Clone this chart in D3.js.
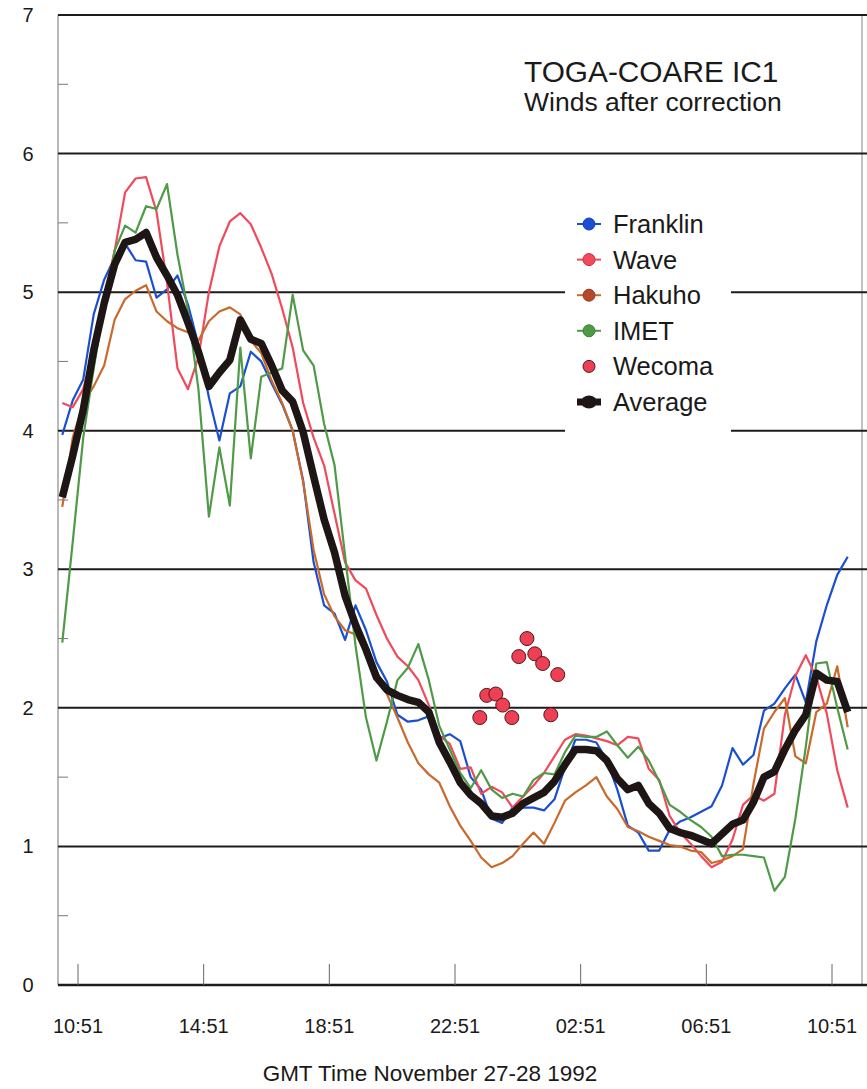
<!DOCTYPE html>
<html>
<head>
<meta charset="utf-8">
<script src="https://cdn.jsdelivr.net/npm/d3@7"></script>
<style>
  html, body { margin: 0; padding: 0; background: #fff; }
  svg { display: block; }
  text { font-family: "Liberation Sans", Arial, Helvetica, sans-serif; fill: #1a1a1a; }
</style>
</head>
<body>
<script>
// Time is measured in hours after 10:51 GMT, 27 November 1992.
// Ship records are 20-minute samples starting at 10:21 GMT.
const sampleStart = -0.5;
const sampleStep = 1 / 3;

// Corrected wind speed (m/s) per platform
const franklin = [3.97,4.22,4.37,4.84,5.09,5.25,5.35,5.23,5.22,4.96,
  5.02,5.12,4.91,4.62,4.24,3.93,4.27,4.32,4.57,4.50,
  4.34,4.19,4.00,3.64,3.05,2.74,2.68,2.49,2.74,2.56,
  2.33,2.19,1.95,1.90,1.91,1.94,1.78,1.81,1.76,1.50,
  1.41,1.20,1.17,1.28,1.28,1.28,1.26,1.34,1.57,1.77,
  1.77,1.75,1.62,1.41,1.15,1.10,0.97,0.97,1.12,1.18,
  1.21,1.25,1.29,1.44,1.71,1.59,1.66,1.98,2.03,2.14,
  2.24,2.04,2.48,2.74,2.96,3.09];

const wave = [4.20,4.17,4.30,4.58,4.95,5.30,5.72,5.82,5.83,5.58,
  5.07,4.45,4.30,4.53,5.00,5.33,5.51,5.57,5.49,5.32,
  5.13,4.88,4.60,4.20,3.95,3.75,3.40,3.05,2.92,2.86,
  2.67,2.50,2.37,2.30,2.20,2.02,1.80,1.74,1.56,1.57,
  1.38,1.43,1.39,1.28,1.36,1.44,1.53,1.65,1.77,1.81,
  1.80,1.78,1.76,1.73,1.79,1.78,1.56,1.48,1.22,1.10,
  1.02,0.93,0.85,0.89,1.05,1.30,1.37,1.33,1.38,1.95,
  2.23,2.38,2.22,1.96,1.55,1.28];

const hakuho = [3.45,3.95,4.20,4.32,4.47,4.80,4.95,5.01,5.05,4.86,
  4.79,4.74,4.71,4.65,4.79,4.86,4.89,4.84,4.65,4.56,
  4.36,4.20,4.00,3.63,3.14,2.82,2.66,2.56,2.53,2.40,
  2.27,2.10,1.93,1.75,1.60,1.52,1.46,1.29,1.15,1.04,
  0.92,0.85,0.88,0.93,1.02,1.10,1.02,1.17,1.33,1.39,
  1.44,1.50,1.36,1.27,1.14,1.11,1.07,1.04,1.01,1.00,
  0.97,0.96,0.88,0.90,0.93,0.98,1.45,1.85,1.97,2.07,
  1.65,1.60,1.97,2.03,2.30,1.86];

const imet = [2.47,3.20,3.95,4.45,4.90,5.30,5.48,5.43,5.62,5.60,
  5.78,5.27,4.87,4.30,3.38,3.88,3.46,4.60,3.80,4.39,
  4.42,4.45,4.98,4.58,4.47,4.05,3.75,3.10,2.45,1.93,
  1.62,1.90,2.20,2.29,2.46,2.20,1.87,1.70,1.53,1.42,
  1.55,1.41,1.35,1.38,1.36,1.48,1.53,1.52,1.68,1.80,
  1.79,1.79,1.83,1.73,1.64,1.72,1.62,1.47,1.30,1.25,
  1.19,1.14,1.07,0.93,0.94,0.94,0.93,0.92,0.68,0.78,
  1.20,1.72,2.32,2.33,2.00,1.70];

const average = [3.52,3.82,4.15,4.58,4.92,5.20,5.36,5.38,5.43,5.25,
  5.12,4.98,4.78,4.57,4.32,4.42,4.51,4.80,4.66,4.63,
  4.47,4.29,4.21,3.99,3.67,3.36,3.12,2.81,2.60,2.42,
  2.22,2.13,2.09,2.06,2.04,1.97,1.75,1.61,1.46,1.37,
  1.31,1.22,1.21,1.24,1.31,1.35,1.39,1.47,1.59,1.70,
  1.70,1.69,1.62,1.49,1.41,1.44,1.31,1.24,1.13,1.10,
  1.08,1.05,1.02,1.09,1.16,1.19,1.32,1.50,1.54,1.70,
  1.84,1.95,2.25,2.20,2.19,1.97];

// Wecoma spot observations
const wecomaHours = [12.79,13.01,13.30,13.52,13.81,14.03,14.29,14.54,14.79,15.05,15.27];
const wecomaWind  = [1.93,2.09,2.10,2.02,1.93,2.37,2.50,2.39,2.32,1.95,2.24];

// Axes
const tickHours  = [0,4,8,12,16,20,24];
const tickLabels = ["10:51","14:51","18:51","22:51","02:51","06:51","10:51"];
const yTickValues = [0,1,2,3,4,5,6,7];
const yMinorValues = [0.5,1.5,2.5,3.5,4.5,5.5,6.5];

const legendNames = ["Franklin","Wave","Hakuho","IMET","Wecoma","Average"];

const W = 867, H = 1089;
const plotLeft = 58, plotRight = 862, plotTop = 15, plotBottom = 985;

const x = d3.scaleLinear().domain([0, 24]).range([78, 832]);
const y = d3.scaleLinear().domain([0, 7]).range([plotBottom, plotTop]);

const svg = d3.select("body").append("svg")
  .attr("width", W).attr("height", H);

svg.append("rect").attr("width", W).attr("height", H).attr("fill", "#fff");

// frame: thin left axis and right edge
svg.append("line").attr("x1", plotLeft).attr("x2", plotLeft).attr("y1", plotTop).attr("y2", plotBottom)
  .attr("stroke", "#8a8a8a").attr("stroke-width", 1.2);
svg.append("line").attr("x1", plotRight).attr("x2", plotRight).attr("y1", plotTop).attr("y2", plotBottom)
  .attr("stroke", "#9a9a9a").attr("stroke-width", 1.2);

// half-unit minor ticks
svg.append("g").selectAll("line").data(yMinorValues).join("line")
  .attr("x1", plotLeft).attr("x2", plotLeft + 10)
  .attr("y1", d => y(d)).attr("y2", d => y(d))
  .attr("stroke", "#777").attr("stroke-width", 1);

// horizontal grid lines (0 is the baseline)
svg.append("g").selectAll("line").data(yTickValues).join("line")
  .attr("x1", plotLeft).attr("x2", W)
  .attr("y1", d => y(d)).attr("y2", d => y(d))
  .attr("stroke", "#1c1c1c").attr("stroke-width", d => d === 0 ? 2.5 : 2);

// y labels
svg.append("g").selectAll("text").data(yTickValues).join("text")
  .attr("x", 28).attr("y", d => y(d))
  .attr("text-anchor", "middle").attr("dominant-baseline", "central")
  .attr("font-size", 20).text(d => d);

// x ticks and labels
svg.append("g").selectAll("line").data(tickHours).join("line")
  .attr("x1", d => x(d)).attr("x2", d => x(d))
  .attr("y1", plotBottom - 21).attr("y2", plotBottom)
  .attr("stroke", "#666").attr("stroke-width", 1);
svg.append("g").selectAll("text").data(tickHours).join("text")
  .attr("x", d => x(d)).attr("y", 1026)
  .attr("text-anchor", "middle").attr("dominant-baseline", "central")
  .attr("font-size", 20).text((d, i) => tickLabels[i]);

svg.append("text").attr("x", 430).attr("y", 1073)
  .attr("text-anchor", "middle").attr("dominant-baseline", "central")
  .attr("font-size", 22.5).text("GMT Time November 27-28 1992");

// title block
svg.append("text").attr("x", 524).attr("y", 82)
  .attr("font-size", 29.8).text("TOGA-COARE IC1");
svg.append("text").attr("x", 524).attr("y", 111)
  .attr("font-size", 26.5).text("Winds after correction");

// series
const styles = {
  Franklin: { color: "#1b4fd2", dot: "#1240b8" },
  Wave:     { color: "#f04a5c", dot: "#d8283c" },
  Hakuho:   { color: "#c96a2c", dot: "#9a3a22" },
  IMET:     { color: "#4f9a47", dot: "#3c7d38" },
  Wecoma:   { color: "#ee3f55", dot: "#4a1a1a" },
  Average:  { color: "#1e1515", dot: "#1e1515" }
};

const hourAt = i => sampleStart + i * sampleStep;
const line = d3.line().x((d, i) => x(hourAt(i))).y(d => y(d));

const thin = [["Franklin", franklin], ["Wave", wave], ["Hakuho", hakuho], ["IMET", imet]];
svg.append("g").selectAll("path").data(thin).join("path")
  .attr("d", d => line(d[1]))
  .attr("fill", "none")
  .attr("stroke", d => styles[d[0]].color)
  .attr("stroke-width", 2.2)
  .attr("stroke-linejoin", "round");

svg.append("g").selectAll("circle").data(wecomaHours).join("circle")
  .attr("cx", d => x(d)).attr("cy", (d, i) => y(wecomaWind[i]))
  .attr("r", 7)
  .attr("fill", styles.Wecoma.color)
  .attr("stroke", styles.Wecoma.dot).attr("stroke-width", 1);

svg.append("path").attr("d", line(average))
  .attr("fill", "none").attr("stroke", styles.Average.color)
  .attr("stroke-width", 7.5).attr("stroke-linejoin", "round").attr("stroke-linecap", "butt");

// legend
const lg = svg.append("g");
lg.append("rect").attr("x", 565).attr("y", 203).attr("width", 166).attr("height", 238)
  .attr("fill", "#fff");
const rowY = i => 224 + i * 35.6;
legendNames.forEach((name, i) => {
  const s = styles[name];
  const cy = rowY(i);
  if (name !== "Wecoma") {
    lg.append("line").attr("x1", 577).attr("x2", 601).attr("y1", cy).attr("y2", cy)
      .attr("stroke", s.color).attr("stroke-width", name === "Average" ? 7 : 2);
  }
  if (name === "Average") {
    lg.append("ellipse").attr("cx", 589).attr("cy", cy).attr("rx", 8).attr("ry", 6.5)
      .attr("fill", s.color);
  } else {
    lg.append("circle").attr("cx", 589).attr("cy", cy).attr("r", 6)
      .attr("fill", name === "Hakuho" ? "#b4482a" : s.color)
      .attr("stroke", s.dot).attr("stroke-width", 1);
  }
  lg.append("text").attr("x", 613).attr("y", cy)
    .attr("dominant-baseline", "central").attr("font-size", 25.5).text(name);
});
</script>
</body>
</html>
